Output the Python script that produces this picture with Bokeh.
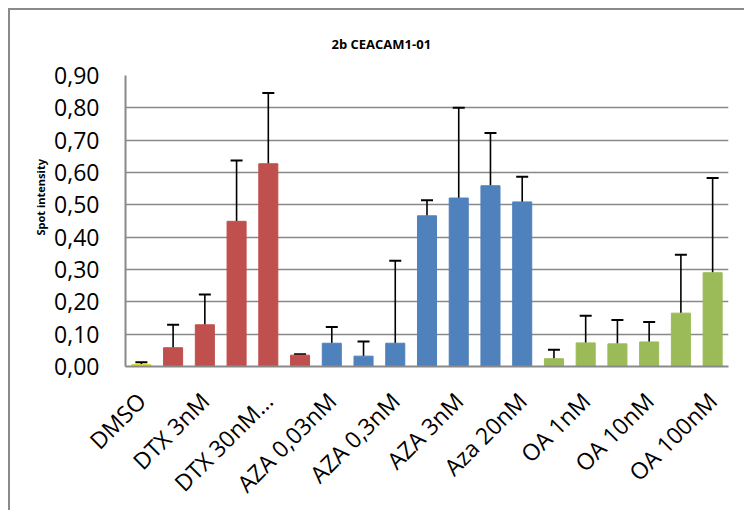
import math
from bokeh.plotting import figure
from bokeh.models import Range1d, FixedTicker, CustomJSTickFormatter, Whisker, TeeHead, ColumnDataSource, Title
from bokeh.embed import file_html
from bokeh.resources import INLINE

# ---- data ----
tick_labels = ["DMSO", "DTX 3nM", "DTX 30nM\u2026", "AZA 0,03nM", "AZA 0,3nM",
               "AZA 3nM", "Aza 20nM", "OA 1nM", "OA 10nM", "OA 100nM"]
groups = ["DMSO"] + ["DTX"] * 5 + ["AZA"] * 7 + ["OA"] * 6
values = [0.006, 0.058, 0.129, 0.449, 0.627, 0.035, 0.072, 0.032, 0.072,
          0.466, 0.521, 0.559, 0.509, 0.024, 0.073, 0.070, 0.076, 0.165, 0.290]
errors = [0.007, 0.071, 0.094, 0.188, 0.219, 0.003, 0.050, 0.045, 0.255,
          0.048, 0.279, 0.163, 0.078, 0.028, 0.084, 0.074, 0.062, 0.181, 0.293]
group_colors = {"DMSO": "#D9D936", "DTX": "#C0504D", "AZA": "#4F81BD", "OA": "#9BBB59"}
y_ticks = [0.0, 0.1, 0.2, 0.3, 0.4, 0.5, 0.6, 0.7, 0.8, 0.9]

xs = list(range(len(values)))
src = ColumnDataSource(dict(
    x=xs,
    top=values,
    upper=[v + e for v, e in zip(values, errors)],
    color=[group_colors[g] for g in groups],
))

FONT = "Open Sans"
GRAY = "#898989"

p = figure(width=736, height=502, output_backend="svg", toolbar_location=None,
           x_range=Range1d(-0.5, len(values) - 0.5), y_range=Range1d(0, 0.9),
           min_border_left=115, min_border_right=18, min_border_top=65, min_border_bottom=140)
p.title = Title(text="2b CEACAM1-01", align="left", offset=206, standoff=41,
                vertical_align="top",
                text_font=FONT, text_font_size="13px", text_font_style="bold",
                text_color="black")
p.outline_line_color = None
p.background_fill_color = "white"
p.border_fill_color = "white"
p.styles = {"margin-left": "8px", "margin-top": "8px",
            "border-left": "2px solid #8a8a8a", "border-top": "2px solid #8a8a8a"}

p.vbar(x="x", top="top", width=0.6, color="color", source=src)
p.add_layout(Whisker(base="x", lower="top", upper="upper", source=src,
                     line_color="black", line_width=1.6,
                     upper_head=TeeHead(size=12, line_color="black", line_width=2),
                     lower_head=None))

p.xgrid.grid_line_color = None
p.ygrid.grid_line_color = GRAY
p.ygrid.grid_line_width = 1.6
p.ygrid.ticker = FixedTicker(ticks=y_ticks)

p.yaxis.ticker = FixedTicker(ticks=y_ticks)
p.yaxis.formatter = CustomJSTickFormatter(code="return tick.toFixed(2).replace('.', ',');")
p.yaxis.axis_line_color = GRAY
p.yaxis.axis_line_width = 2
p.yaxis.major_tick_line_color = None
p.yaxis.minor_tick_line_color = None
p.yaxis.major_tick_out = 0
p.yaxis.major_label_standoff = 26
p.yaxis.major_label_text_font = FONT
p.yaxis.major_label_text_font_size = "23px"
p.yaxis.major_label_text_color = "black"

p.xaxis.ticker = FixedTicker(ticks=xs[::2])
p.xaxis.major_label_overrides = {i * 2: lab for i, lab in enumerate(tick_labels)}
p.xaxis.major_label_orientation = math.pi / 4
p.xaxis.axis_line_color = GRAY
p.xaxis.axis_line_width = 2
p.xaxis.major_tick_line_color = None
p.xaxis.minor_tick_line_color = None
p.xaxis.major_tick_out = 0
p.xaxis.major_label_standoff = 30
p.xaxis.major_label_text_font = FONT
p.xaxis.major_label_text_font_size = "23px"
p.xaxis.major_label_text_color = "black"

p.add_layout(Title(text="Spot intensity", align="left", offset=131, standoff=8,
                   text_font=FONT, text_font_size="11px", text_font_style="bold",
                   text_color="black"), "left")

open("out.html", "w").write(file_html(p, INLINE))
